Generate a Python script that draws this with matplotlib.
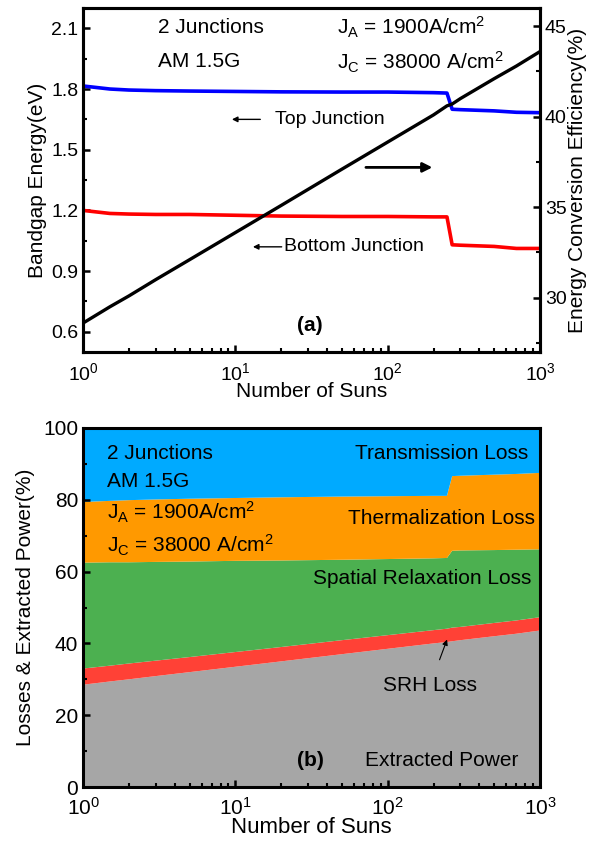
import matplotlib
matplotlib.use("Agg")
import matplotlib.pyplot as plt

plt.rcParams['font.family'] = ['Liberation Sans', 'DejaVu Sans']
plt.rcParams['mathtext.fontset'] = 'custom'
plt.rcParams['mathtext.rm'] = 'Liberation Sans'
plt.rcParams['mathtext.default'] = 'regular'

# number of suns (step near 250 suns)
suns = [1, 1.5, 2, 3, 5, 10, 20, 50, 100, 200, 245, 265, 300, 500, 700, 1000]

# panel (a)
top_gap = [1.815, 1.800, 1.795, 1.792, 1.790, 1.788, 1.786, 1.785, 1.785, 1.782, 1.780,
           1.700, 1.698, 1.692, 1.685, 1.683]
bottom_gap = [1.200, 1.185, 1.182, 1.180, 1.180, 1.176, 1.172, 1.170, 1.170, 1.168, 1.168,
              1.030, 1.028, 1.022, 1.012, 1.012]
efficiency = [28.6, 29.5, 30.1, 31.0, 32.1, 33.6, 35.1, 37.1, 38.6, 40.1, 40.6,
              40.7, 41.0, 42.1, 42.8, 43.6]

# panel (b), stacked from bottom
extracted = [28.5, 29.4, 30.0, 30.9, 32.0, 33.5, 35.0, 37.0, 38.5, 40.0, 40.4,
             40.6, 40.9, 42.0, 42.7, 43.6]
srh = [4.5, 4.4, 4.4, 4.3, 4.2, 4.1, 4.0, 3.9, 3.8, 3.7, 3.7, 3.8, 3.7, 3.7, 3.7, 3.7]
spatial = [29.5, 28.8, 28.2, 27.5, 26.6, 25.4, 24.1, 22.4, 21.2, 20.0, 19.7,
           21.4, 21.3, 20.3, 19.7, 18.9]
thermal = [16.9, 17.1, 17.3, 17.4, 17.5, 17.5, 17.6, 17.6, 17.5, 17.4, 17.3,
           20.8, 20.8, 21.0, 21.1, 21.3]
transmission = [20.6, 20.3, 20.1, 19.9, 19.7, 19.5, 19.3, 19.1, 19.0, 18.9, 18.9,
                13.4, 13.3, 13.0, 12.8, 12.5]

fs = 15      # labels and notes
tfs = 14     # tick labels


def style_ticks(ax):
    ax.tick_params(which='major', direction='in', length=5, width=1.8, labelsize=tfs)
    ax.tick_params(which='minor', direction='in', length=3, width=1.5)
    ax.tick_params(axis='x', pad=7)
    for s in ax.spines.values():
        s.set_linewidth(2.2)


fig = plt.figure(figsize=(6.02, 8.43), dpi=100)

# ---------- (a) ----------
ax1 = fig.add_axes([0.138, 0.5824, 0.759, 0.408])
ax1.plot(suns, top_gap, color='#0000ff', lw=2.6)
ax1.plot(suns, bottom_gap, color='#ff0000', lw=2.6)
ax1.set_xscale('log')
ax1.set_xlim(1, 1000)
ax1.set_ylim(0.5, 2.2)
ax1.set_yticks([0.6, 0.9, 1.2, 1.5, 1.8, 2.1])
ax1.set_yticks([0.75, 1.05, 1.35, 1.65, 1.95], minor=True)
ax1.set_xlabel('Number of Suns', fontsize=fs, labelpad=-1)
ax1.set_ylabel('Bandgap Energy(eV)', fontsize=fs, labelpad=3)
style_ticks(ax1)
ax1.tick_params(which='both', top=False, right=False)

ax2 = ax1.twinx()
ax2.plot(suns, efficiency, color='black', lw=2.4)
ax2.set_ylim(27, 46)
ax2.set_yticks([30, 35, 40, 45])
ax2.set_yticks([27.5, 32.5, 37.5, 42.5], minor=True)
ax2.set_ylabel('Energy Conversion Efficiency(%)', fontsize=fs, labelpad=1)
style_ticks(ax2)
ax2.tick_params(which='both', left=False, top=False)

ax1.text(0.164, 0.945, '2 Junctions', transform=ax1.transAxes, fontsize=fs, va='center')
ax1.text(0.164, 0.846, 'AM 1.5G', transform=ax1.transAxes, fontsize=fs, va='center')
ax1.text(0.556, 0.945, r'J$_A$ = 1900A/cm$^2$', transform=ax1.transAxes, fontsize=fs, va='center')
ax1.text(0.556, 0.843, r'J$_C$ = 38000 A/cm$^2$', transform=ax1.transAxes, fontsize=fs, va='center')
ax1.text(0.497, 0.076, '(a)', transform=ax1.transAxes, fontsize=fs, fontweight='bold',
         ha='center', va='center')

ax1.annotate('', xy=(9.1, 1.65), xytext=(15.2, 1.65),
             arrowprops=dict(arrowstyle='-|>', color='black', lw=1, mutation_scale=8))
ax1.text(18.2, 1.65, 'Top Junction', fontsize=14, va='center')
ax1.annotate('', xy=(12.5, 1.02), xytext=(21.0, 1.02),
             arrowprops=dict(arrowstyle='-|>', color='black', lw=1, mutation_scale=8))
ax1.text(21.0, 1.02, 'Bottom Junction', fontsize=14, va='center')
ax2.annotate('', xy=(205, 37.2), xytext=(69, 37.2),
             arrowprops=dict(arrowstyle='-|>', color='black', lw=2, mutation_scale=14))

# ---------- (b) ----------
ax3 = fig.add_axes([0.138, 0.0664, 0.759, 0.4259])
ax3.stackplot(suns, extracted, srh, spatial, thermal, transmission,
              colors=['#a6a6a6', '#ff4136', '#4cb050', '#ff9900', '#00aaff'], lw=0)
ax3.set_xscale('log')
ax3.set_xlim(1, 1000)
ax3.set_ylim(0, 100)
ax3.set_yticks([0, 20, 40, 60, 80, 100])
ax3.set_yticks([10, 30, 50, 70, 90], minor=True)
ax3.set_xlabel('Number of Suns', fontsize=fs + 1, labelpad=-1)
ax3.set_ylabel('Losses & Extracted Power(%)', fontsize=fs, labelpad=6)
style_ticks(ax3)
ax3.tick_params(which='both', top=False, right=False)
ax3.tick_params(labelsize=tfs + 1)
ax3.set_axisbelow(False)

ax3.text(0.053, 0.930, '2 Junctions', transform=ax3.transAxes, fontsize=fs, va='center')
ax3.text(0.053, 0.850, 'AM 1.5G', transform=ax3.transAxes, fontsize=fs, va='center')
ax3.text(0.053, 0.766, r'J$_A$ = 1900A/cm$^2$', transform=ax3.transAxes, fontsize=fs, va='center')
ax3.text(0.053, 0.674, r'J$_C$ = 38000 A/cm$^2$', transform=ax3.transAxes, fontsize=fs, va='center')
ax3.text(0.974, 0.930, 'Transmission Loss', transform=ax3.transAxes, fontsize=fs,
         ha='right', va='center')
ax3.text(0.989, 0.749, 'Thermalization Loss', transform=ax3.transAxes, fontsize=fs,
         ha='right', va='center')
ax3.text(0.982, 0.582, 'Spatial Relaxation Loss', transform=ax3.transAxes, fontsize=fs,
         ha='right', va='center')
ax3.text(0.952, 0.075, 'Extracted Power', transform=ax3.transAxes, fontsize=fs,
         ha='right', va='center')
ax3.text(0.497, 0.075, '(b)', transform=ax3.transAxes, fontsize=fs, fontweight='bold',
         ha='center', va='center')
ax3.annotate('SRH Loss', xy=(249, 41.8), xytext=(190, 28.4), fontsize=fs,
             ha='center', va='center',
             arrowprops=dict(arrowstyle='-|>', color='black', lw=0.8, mutation_scale=8,
                             shrinkA=10))

fig.savefig('out.png', dpi=100)
